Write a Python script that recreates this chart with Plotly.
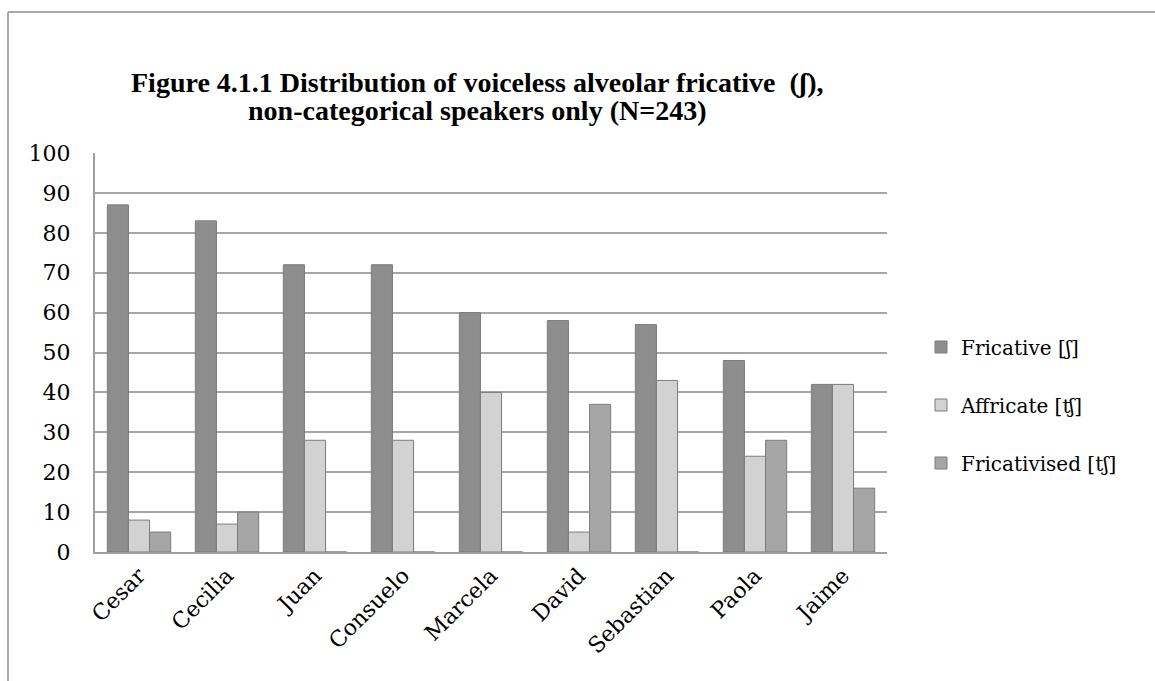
import plotly.graph_objects as go

speakers = ["Cesar", "Cecilia", "Juan", "Consuelo", "Marcela", "David", "Sebastian", "Paola", "Jaime"]
fricative = [87, 83, 72, 72, 60, 58, 57, 48, 42]
affricate = [8, 7, 28, 28, 40, 5, 43, 24, 42]
fricativised = [5, 10, 0, 0, 0, 37, 0, 28, 16]
series_names = ["Fricative [ʃ]", "Affricate [ʧ]", "Fricativised [tʃ]"]
y_ticks = list(range(0, 101, 10))
title_lines = [
    "Figure 4.1.1 Distribution of voiceless alveolar fricative  (ʃ),",
    "non-categorical speakers only (N=243)",
]

serif = "DejaVu Serif"
title_font = "Liberation Serif"
colors = ["#8e8e8e", "#d2d2d2", "#a6a6a6"]

fig = go.Figure()
for name, vals, col in zip(series_names, [fricative, affricate, fricativised], colors):
    fig.add_trace(go.Bar(
        x=speakers, y=vals, name=name, legendgroup=name,
        marker=dict(color=col, line=dict(color="#7c7c7c", width=1)),
    ))

# plot-area geometry (pixels)
L, R, T, B = 95, 268, 153, 129
W, H = 1155, 681
pw, ph = W - L - R, H - T - B
fx = lambda px: (px - L) / pw
fy = lambda py: (H - B - py) / ph

fig.update_layout(
    width=W, height=H,
    margin=dict(l=L, r=R, t=T, b=B, autoexpand=False),
    paper_bgcolor="white", plot_bgcolor="white",
    barmode="group", bargap=0.28, bargroupgap=0,
    font=dict(family=serif, color="black"),
    showlegend=True,
    legend=dict(
        x=fx(921), y=fy(405), xanchor="left", yanchor="middle",
        font=dict(family=serif, size=20, color="black"),
        tracegroupgap=29, itemwidth=30, bgcolor="rgba(0,0,0,0)",
    ),
    xaxis=dict(
        showgrid=False, showline=True, linecolor="#a0a0a0", linewidth=2,
        tickangle=-45, ticks="",
        tickfont=dict(family=serif, size=22, color="black"),
    ),
    yaxis=dict(
        range=[0, 100], tickvals=y_ticks, showgrid=True, gridcolor="#a6a6a6", gridwidth=2,
        showline=True, linecolor="#a0a0a0", linewidth=2,
        ticks="", ticklabelstandoff=18,
        tickfont=dict(family=serif, size=22, color="black"),
        zeroline=False,
    ),
)

# two-line bold title
for text, py in zip(title_lines, [83, 111]):
    fig.add_annotation(
        text=f"<b>{text}</b>", xref="paper", yref="paper",
        x=fx(477), y=fy(py), xanchor="center", yanchor="middle",
        showarrow=False, font=dict(family=title_font, size=28, color="black"),
    )

# outer chart frame
frame = dict(type="line", xref="paper", yref="paper", line=dict(color="#a8a8a8", width=2))
fig.add_shape(**frame, x0=fx(8), x1=fx(8), y0=fy(12), y1=fy(700))
fig.add_shape(**frame, x0=fx(8), x1=fx(1170), y0=fy(12), y1=fy(12))

fig.write_html("out.html")
